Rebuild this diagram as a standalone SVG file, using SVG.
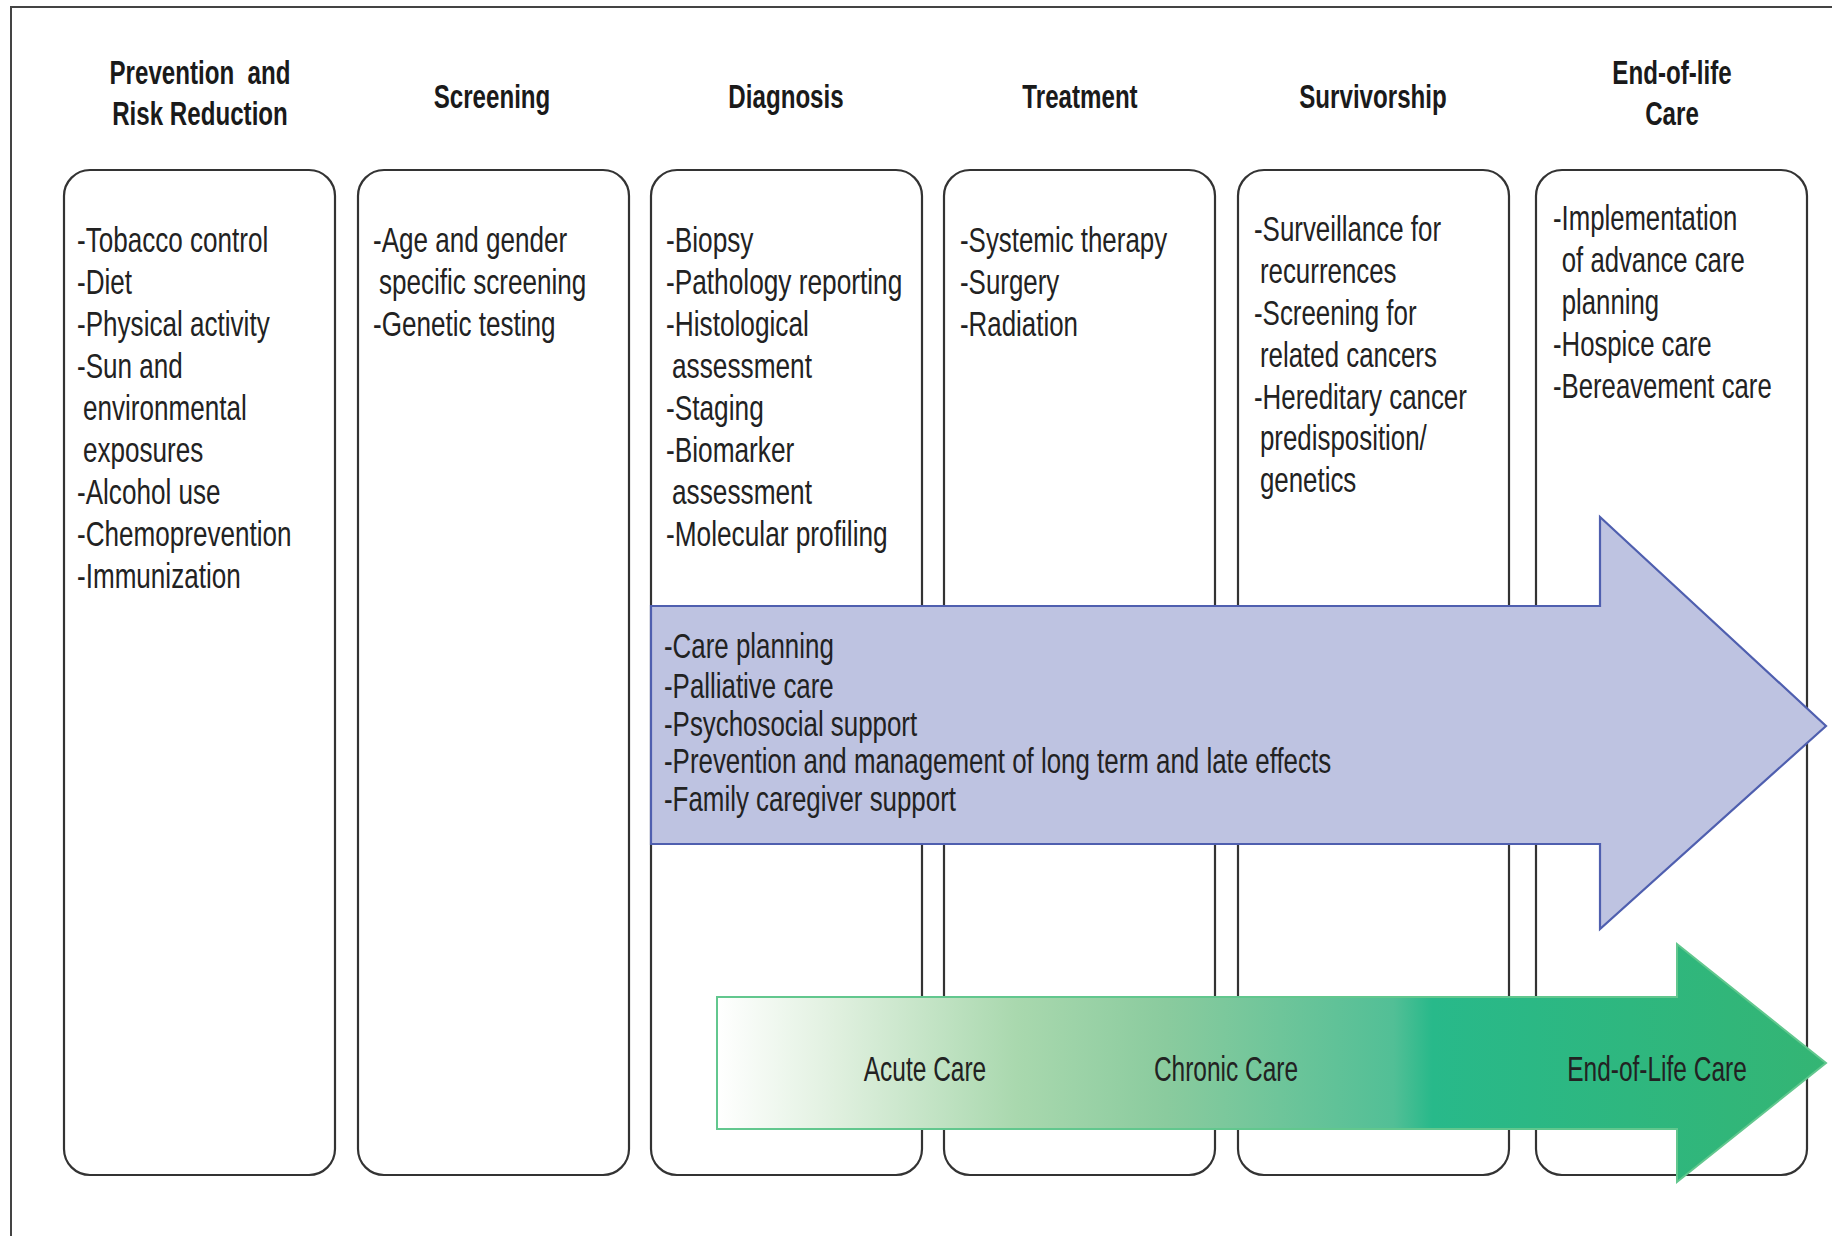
<svg xmlns="http://www.w3.org/2000/svg" width="1832" height="1236" viewBox="0 0 1832 1236">
<style>
.frame{fill:none;stroke:#444;stroke-width:2}
.box{fill:#fff;stroke:#333;stroke-width:2.2}
.hd{font-family:"Liberation Sans",Arial,sans-serif;font-weight:bold;font-size:34px;fill:#1a1a1a;text-anchor:middle}
.tx{font-family:"Liberation Sans",Arial,sans-serif;font-size:35px;fill:#222}
.gl{font-family:"Liberation Sans",Arial,sans-serif;font-size:35px;fill:#222;text-anchor:middle}
</style>
<defs>
<linearGradient id="gg" gradientUnits="userSpaceOnUse" x1="717" y1="0" x2="1826" y2="0">
<stop offset="0" stop-color="#FFFFFF"/>
<stop offset="0.107" stop-color="#E0F0DF"/>
<stop offset="0.27" stop-color="#A9D8AE"/>
<stop offset="0.405" stop-color="#8ACB9E"/>
<stop offset="0.61" stop-color="#52BF96"/>
<stop offset="0.645" stop-color="#28B98A"/>
<stop offset="1" stop-color="#34B574"/>
</linearGradient>
</defs>
<rect width="1832" height="1236" fill="#fff"/>
<path class="frame" d="M11,1236 V7 H1832"/>

<g id="headers">
<g transform="translate(200,0) scale(0.71,1)"><text class="hd" x="0" y="84" xml:space="preserve">Prevention  and</text><text class="hd" x="0" y="125">Risk Reduction</text></g>
<g transform="translate(492,0) scale(0.71,1)"><text class="hd" x="0" y="108">Screening</text></g>
<g transform="translate(786,0) scale(0.71,1)"><text class="hd" x="0" y="108">Diagnosis</text></g>
<g transform="translate(1080,0) scale(0.71,1)"><text class="hd" x="0" y="108">Treatment</text></g>
<g transform="translate(1373,0) scale(0.71,1)"><text class="hd" x="0" y="108">Survivorship</text></g>
<g transform="translate(1672,0) scale(0.71,1)"><text class="hd" x="0" y="84">End-of-life</text><text class="hd" x="0" y="125">Care</text></g>
</g>

<g id="prevention">
<rect class="box" x="64" y="170" width="271" height="1005" rx="26"/>
<g transform="translate(77,0) scale(0.745,1)">
<text class="tx" x="0" y="252.5">-Tobacco control</text>
<text class="tx" x="0" y="294.4">-Diet</text>
<text class="tx" x="0" y="336.3">-Physical activity</text>
<text class="tx" x="0" y="378.2">-Sun and</text>
<text class="tx" x="8" y="420.1">environmental</text>
<text class="tx" x="8" y="462">exposures</text>
<text class="tx" x="0" y="503.9">-Alcohol use</text>
<text class="tx" x="0" y="545.8">-Chemoprevention</text>
<text class="tx" x="0" y="587.7">-Immunization</text>
</g>
</g>

<g id="screening">
<rect class="box" x="358" y="170" width="271" height="1005" rx="26"/>
<g transform="translate(373,0) scale(0.745,1)">
<text class="tx" x="0" y="252.5">-Age and gender</text>
<text class="tx" x="8" y="294.4">specific screening</text>
<text class="tx" x="0" y="336.3">-Genetic testing</text>
</g>
</g>

<g id="diagnosis">
<rect class="box" x="651" y="170" width="271" height="1005" rx="26"/>
<g transform="translate(666,0) scale(0.75,1)">
<text class="tx" x="0" y="252.5">-Biopsy</text>
<text class="tx" x="0" y="294.4">-Pathology reporting</text>
<text class="tx" x="0" y="336.3">-Histological</text>
<text class="tx" x="8" y="378.2">assessment</text>
<text class="tx" x="0" y="420.1">-Staging</text>
<text class="tx" x="0" y="462">-Biomarker</text>
<text class="tx" x="8" y="503.9">assessment</text>
<text class="tx" x="0" y="545.8">-Molecular profiling</text>
</g>
</g>

<g id="treatment">
<rect class="box" x="944" y="170" width="271" height="1005" rx="26"/>
<g transform="translate(960,0) scale(0.74,1)">
<text class="tx" x="0" y="252.5">-Systemic therapy</text>
<text class="tx" x="0" y="294.4">-Surgery</text>
<text class="tx" x="0" y="336.3">-Radiation</text>
</g>
</g>

<g id="survivorship">
<rect class="box" x="1238" y="170" width="271" height="1005" rx="26"/>
<g transform="translate(1254,0) scale(0.74,1)">
<text class="tx" x="0" y="241">-Surveillance for</text>
<text class="tx" x="8" y="283">recurrences</text>
<text class="tx" x="0" y="325">-Screening for</text>
<text class="tx" x="8" y="367">related cancers</text>
<text class="tx" x="0" y="409">-Hereditary cancer</text>
<text class="tx" x="8" y="450">predisposition/</text>
<text class="tx" x="8" y="492">genetics</text>
</g>
</g>

<g id="endoflife">
<rect class="box" x="1536" y="170" width="271" height="1005" rx="26"/>
<g transform="translate(1553,0) scale(0.735,1)">
<text class="tx" x="0" y="230">-Implementation</text>
<text class="tx" x="12" y="272">of advance care</text>
<text class="tx" x="12" y="314">planning</text>
<text class="tx" x="0" y="356">-Hospice care</text>
<text class="tx" x="0" y="398">-Bereavement care</text>
</g>
</g>

<g id="connectors">
<g id="continuum-arrow">
<path d="M651,606 H1600 V517 L1826,726 L1600,929 V844 H651 Z" fill="#BEC3E1" stroke="#4F5FAF" stroke-width="2.2"/>
<g transform="translate(664,0) scale(0.74,1)">
<text class="tx" x="0" y="658.5">-Care planning</text>
<text class="tx" x="0" y="698">-Palliative care</text>
<text class="tx" x="0" y="736">-Psychosocial support</text>
<text class="tx" x="0" y="773.5">-Prevention and management of long term and late effects</text>
<text class="tx" x="0" y="811">-Family caregiver support</text>
</g>
</g>
<g id="care-arrow">
<path d="M717,997 H1677 V944 L1826,1063 L1677,1182 V1129 H717 Z" fill="url(#gg)" stroke="#62C78E" stroke-width="2"/>
<g transform="translate(925,0) scale(0.70,1)"><text class="gl" x="0" y="1081">Acute Care</text></g>
<g transform="translate(1226,0) scale(0.70,1)"><text class="gl" x="0" y="1081">Chronic Care</text></g>
<g transform="translate(1657,0) scale(0.70,1)"><text class="gl" x="0" y="1081">End-of-Life Care</text></g>
</g>
</g>
</svg>
